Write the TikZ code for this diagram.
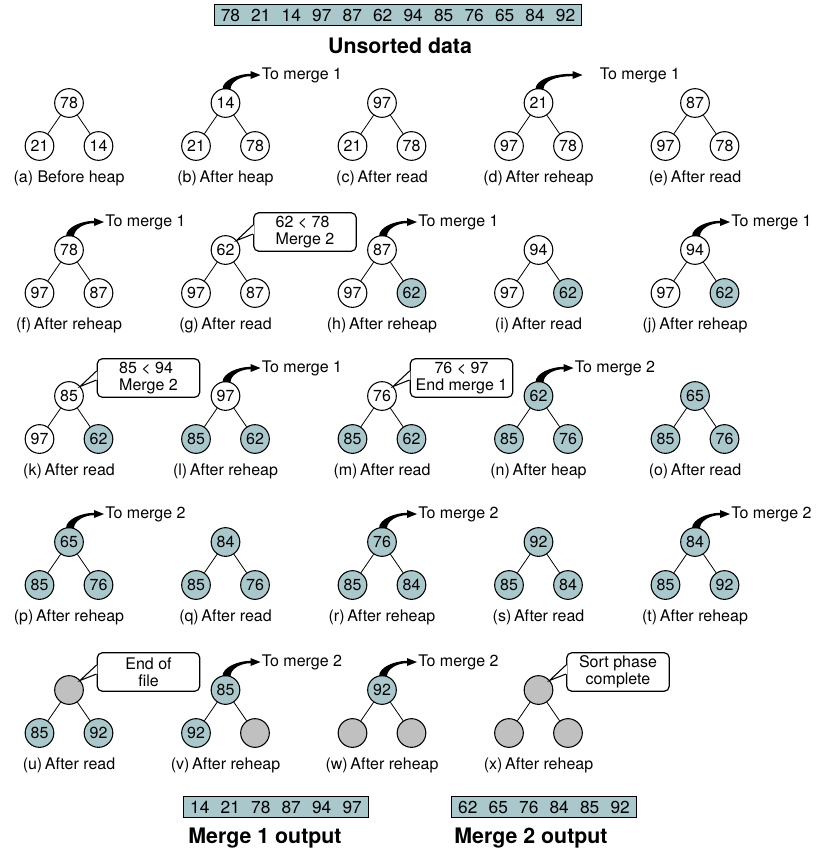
\documentclass[tikz,border=0pt]{standalone}
\usepackage{fontspec}
\setmainfont{TeX Gyre Heros}
\usetikzlibrary{arrows.meta,calc,positioning}
\definecolor{heapblue}{HTML}{AAC8CC}
\definecolor{heapgray}{HTML}{C0C0C0}
\tikzset{
  hnode/.style={circle,draw,line width=0.8pt,minimum size=21.5pt,inner sep=0pt,
    font=\fontsize{12}{14}\selectfont},
  wn/.style={hnode,fill=white},
  bn/.style={hnode,fill=heapblue},
  gn/.style={hnode,fill=heapgray},
  branch/.style={line width=0.6pt},
  caption/.style={font=\fontsize{12}{14}\selectfont},
  callout/.style={draw,fill=white,line width=0.9pt,rounded corners=4pt,
    minimum width=77pt,minimum height=29pt,inner sep=1pt,
    font=\fontsize{12}{13}\selectfont},
  databar/.style={draw,fill=heapblue,line width=0.8pt,minimum height=16pt,
    inner xsep=5pt,inner ysep=0pt,font=\fontsize{13}{15}\selectfont,
    execute at begin node={\spaceskip=8.4pt\relax}},
  bartitle/.style={font=\bfseries\fontsize{16}{18}\selectfont}
}
% one small heap: {name}{(x,y)}{root style}{root}{left style}{left}{right style}{right}{caption}
\newcommand{\heaptree}[9]{%
  \begin{scope}[shift={#2}]
    \node[#3] (#1r) at (0,0) {#4};
    \node[#5] (#1a) at (-29.5,43) {#6};
    \node[#7] (#1b) at (29.5,43) {#8};
    \draw[branch] (#1r) -- (#1a);
    \draw[branch] (#1r) -- (#1b);
    \node[caption] (#1l) at (0,75) {#9};
  \end{scope}
}
% tapered output arrow: [tip dx]{tree}{text gap}{text}
\newcommand{\tomerge}[4][35]{%
  \begin{scope}[shift={(#2r)}]
    \coordinate (#2m) at (#1,-28);
    \fill (-3,-13.8) .. controls (-3,-23) and (13,-29.2) .. (#1-10,-29.2)
      -- (#1-10,-32) -- (#2m) -- (#1-10,-24) -- (#1-10,-26.8)
      .. controls (15,-26.8) and (5,-21) .. (5,-13.8) -- cycle;
  \end{scope}
  \node[caption,anchor=west,inner sep=0pt] (#2t) at ($(#2m)+(#3,0)$) {#4};
}
% speech box next to the root: [align]{tree}{text}
\newcommand{\callout}[3][center]{%
  \node[callout,align=#1] (#2c) at ($(#2r)+(79.5,-18)$) {#3};
  \coordinate (#2p) at ($(#2r)+(11,-9.5)$);
  \fill[white] (#2p) -- ($(#2c.west)+(0.9,-7)$) -- ($(#2c.west)+(0.9,2)$) -- cycle;
  \draw[line width=0.8pt] ($(#2c.west)+(0,-7)$) -- (#2p) -- ($(#2c.west)+(0,2)$);
}

\begin{document}
\begin{tikzpicture}[x=0.75pt,y=-0.75pt]
  \useasboundingbox (0,0) rectangle (828,851);

  % Input
  \node[databar] (unsorted) at (398,15) {78 21 14 97 87 62 94 85 76 65 84 92};
  \node[bartitle] (unsortedt) at (400,46) {Unsorted data};

  % Row 1
  \heaptree{a}{(69,103)}{wn}{78}{wn}{21}{wn}{14}{(a) Before heap}
  \heaptree{b}{(225.5,103)}{wn}{14}{wn}{21}{wn}{78}{(b)\,After heap}
  \heaptree{c}{(382,103)}{wn}{97}{wn}{21}{wn}{78}{(c)\,After read}
  \heaptree{d}{(538.5,103)}{wn}{21}{wn}{97}{wn}{78}{(d)\,After reheap}
  \heaptree{e}{(695,103)}{wn}{87}{wn}{97}{wn}{78}{(e)\,After read}
  \tomerge{b}{1}{To merge 1}
  \tomerge[44]{d}{17}{To merge 1}

  % Row 2
  \heaptree{f}{(69,250)}{wn}{78}{wn}{97}{wn}{87}{(f)\,After reheap}
  \heaptree{g}{(225.5,250)}{wn}{62}{wn}{97}{wn}{87}{(g)\,After read}
  \heaptree{h}{(382,250)}{wn}{87}{wn}{97}{bn}{62}{(h)\,After reheap}
  \heaptree{i}{(538.5,250)}{wn}{94}{wn}{97}{bn}{62}{(i)\,After read}
  \heaptree{j}{(695,250)}{wn}{94}{wn}{97}{bn}{62}{(j)\,After reheap}
  \tomerge{f}{1}{To merge 1}
  \callout[left]{g}{62 < 78\\Merge 2}
  \tomerge{h}{1}{To merge 1}
  \tomerge{j}{1}{To merge 1}

  % Row 3
  \heaptree{k}{(69,396)}{wn}{85}{wn}{97}{bn}{62}{(k)\,After read}
  \heaptree{l}{(225.5,396)}{wn}{97}{bn}{85}{bn}{62}{(l)\,After reheap}
  \heaptree{m}{(382,396)}{wn}{76}{bn}{85}{bn}{62}{(m)\,After read}
  \heaptree{n}{(538.5,396)}{bn}{62}{bn}{85}{bn}{76}{(n)\,After heap}
  \heaptree{o}{(695,396)}{bn}{65}{bn}{85}{bn}{76}{(o)\,After read}
  \callout[left]{k}{85 < 94\\Merge 2}
  \tomerge{l}{1}{To merge 1}
  \callout{m}{76 < 97\\End merge 1}
  \tomerge{n}{1}{To merge 2}

  % Row 4
  \heaptree{p}{(69,542)}{bn}{65}{bn}{85}{bn}{76}{(p)\,After reheap}
  \heaptree{q}{(225.5,542)}{bn}{84}{bn}{85}{bn}{76}{(q)\,After read}
  \heaptree{r}{(382,542)}{bn}{76}{bn}{85}{bn}{84}{(r)\,After reheap}
  \heaptree{s}{(538.5,542)}{bn}{92}{bn}{85}{bn}{84}{(s)\,After read}
  \heaptree{t}{(695,542)}{bn}{84}{bn}{85}{bn}{92}{(t)\,After reheap}
  \tomerge{p}{1}{To merge 2}
  \tomerge{r}{1}{To merge 2}
  \tomerge{t}{1}{To merge 2}

  % Row 5
  \heaptree{u}{(69,690)}{gn}{}{bn}{85}{bn}{92}{(u)\,After read}
  \heaptree{v}{(225.5,690)}{bn}{85}{bn}{92}{gn}{}{(v)\,After reheap}
  \heaptree{w}{(382,690)}{bn}{92}{gn}{}{gn}{}{(w)\,After reheap}
  \heaptree{x}{(538.5,690)}{gn}{}{gn}{}{gn}{}{(x)\,After reheap}
  \callout{u}{End of\\file}
  \tomerge{v}{1}{To merge 2}
  \tomerge{w}{1}{To merge 2}
  \callout{x}{Sort phase\\complete}

  % Outputs
  \node[databar] (merge1) at (276,807) {14 21 78 87 94 97};
  \node[databar] (merge2) at (544,807) {62 65 76 84 85 92};
  \node[bartitle] (merge1t) at (265,838) {Merge 1 output};
  \node[bartitle] (merge2t) at (531,838) {Merge 2 output};
\end{tikzpicture}
\end{document}
